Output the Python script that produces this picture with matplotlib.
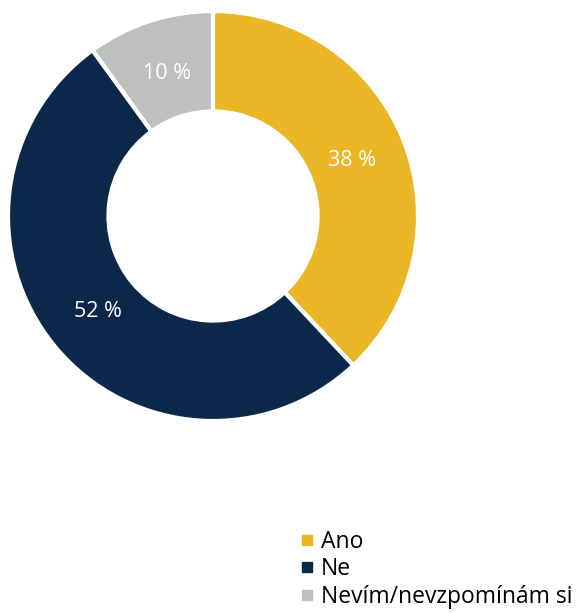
import matplotlib.pyplot as plt
from matplotlib.lines import Line2D

labels = ['Ano', 'Ne', 'Nevím/nevzpomínám si']
values = [38, 52, 10]
colors = ['#EBB626', '#0B2749', '#BFBFBF']

plt.rcParams['font.family'] = ['Open Sans', 'DejaVu Sans']

fig = plt.figure(figsize=(5.82, 6.13), dpi=100)
ax = fig.add_axes([8 / 582, 192 / 613, 410 / 582, 410 / 613])

wedges, texts, autotexts = ax.pie(
    values, colors=colors, startangle=90, counterclock=False,
    radius=1.0, pctdistance=0.73,
    autopct=lambda p: '%d %%' % round(p),
    wedgeprops=dict(width=0.49, edgecolor='white', linewidth=3),
    textprops=dict(color='white', fontsize=15.5))
ax.set_aspect('equal')
ax.set_xlim(-1, 1)
ax.set_ylim(-1, 1)

handles = [Line2D([], [], marker='s', linestyle='none', markersize=6.5,
                  markerfacecolor=c, markeredgecolor=c) for c in colors]
fig.legend(handles, labels, loc='upper left',
           bbox_to_anchor=(300 / 582, 1 - 530 / 613), frameon=False,
           fontsize=16.5, handlelength=0.6, handletextpad=0.3,
           labelspacing=0.15, borderpad=0, borderaxespad=0)

fig.savefig('out.png', dpi=100)
